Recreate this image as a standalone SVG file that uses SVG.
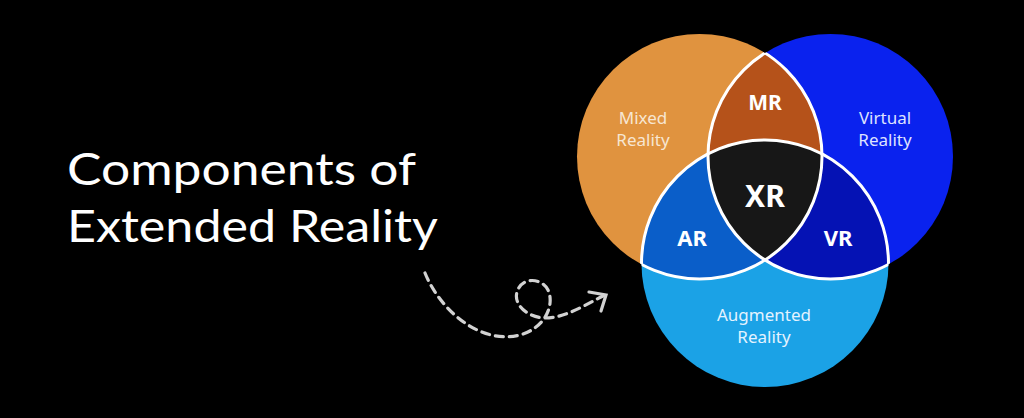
<svg xmlns="http://www.w3.org/2000/svg" width="1024" height="418" viewBox="0 0 1024 418">
  <style>
    .title { font-family: "Lato", "Inter", "Liberation Sans", sans-serif; font-size: 44px; fill: #ffffff; }
    .lbl { font-family: "Noto Sans", "Open Sans", "Liberation Sans", sans-serif; font-size: 17px; text-anchor: middle; }
    .big { font-family: "Noto Sans", "Open Sans", "Liberation Sans", sans-serif; font-weight: bold; fill: #ffffff; text-anchor: middle; }
    .edge { fill: none; stroke: #ffffff; stroke-width: 3; }
    .dash { fill: none; stroke: #d2d2d2; stroke-width: 3.2; stroke-linecap: round; }
  </style>
  <defs>
    <clipPath id="cO"><circle cx="699.5" cy="156.5" r="122.5"/></clipPath>
    <clipPath id="cB"><circle cx="830.5" cy="156.5" r="122.5"/></clipPath>
    <clipPath id="cBL"><circle cx="830.5" cy="156.5" r="122.5"/><circle cx="765" cy="263.5" r="123.5"/></clipPath>
    <clipPath id="cOL"><circle cx="699.5" cy="156.5" r="122.5"/><circle cx="765" cy="263.5" r="123.5"/></clipPath>
    <clipPath id="cOB"><circle cx="699.5" cy="156.5" r="122.5"/><circle cx="830.5" cy="156.5" r="122.5"/></clipPath>
  </defs>
  <rect width="1024" height="418" fill="#000000"/>

  <g id="title">
    <text class="title" x="67" y="185" textLength="349" lengthAdjust="spacingAndGlyphs">Components of</text>
    <text class="title" x="67" y="242" textLength="371" lengthAdjust="spacingAndGlyphs">Extended Reality</text>
  </g>

  <g id="mixed-reality">
    <circle cx="699.5" cy="156.5" r="122.5" fill="#e0933f"/>
    <text class="lbl" x="643" y="124" fill="#f7e6d2">Mixed</text>
    <text class="lbl" x="643" y="146" fill="#f7e6d2">Reality</text>
  </g>
  <g id="virtual-reality">
    <circle cx="830.5" cy="156.5" r="122.5" fill="#0a22ee"/>
    <text class="lbl" x="885" y="124" fill="#dfe3ff">Virtual</text>
    <text class="lbl" x="885" y="146" fill="#dfe3ff">Reality</text>
  </g>
  <g id="mr">
    <circle cx="699.5" cy="156.5" r="122.5" fill="#b5521a" clip-path="url(#cB)"/>
    <text class="big" x="765" y="110" font-size="21">MR</text>
  </g>
  <g id="augmented-reality">
    <circle cx="765" cy="263.5" r="123.5" fill="#1ba2e6"/>
    <text class="lbl" x="764" y="321" fill="#e4f3ff">Augmented</text>
    <text class="lbl" x="764" y="343" fill="#e4f3ff">Reality</text>
  </g>
  <g id="ar">
    <circle cx="765" cy="263.5" r="123.5" fill="#0a5ec9" clip-path="url(#cO)"/>
    <text class="big" x="692" y="246" font-size="22">AR</text>
  </g>
  <g id="vr">
    <circle cx="765" cy="263.5" r="123.5" fill="#0512b4" clip-path="url(#cB)"/>
    <text class="big" x="838" y="246" font-size="22">VR</text>
  </g>
  <g id="xr">
    <g clip-path="url(#cO)">
      <circle cx="765" cy="263.5" r="123.5" fill="#171717" clip-path="url(#cB)"/>
    </g>
    <text class="big" x="765" y="207" font-size="30">XR</text>
  </g>

  <g id="outlines">
    <circle class="edge" cx="699.5" cy="156.5" r="122.5" clip-path="url(#cBL)"/>
    <circle class="edge" cx="830.5" cy="156.5" r="122.5" clip-path="url(#cOL)"/>
    <circle class="edge" cx="765" cy="263.5" r="123.5" clip-path="url(#cOB)"/>
  </g>

  <g id="connectors">
    <path class="dash" stroke-dasharray="8 6" d="M425,273 C440,310 480,345 520,335 C545,328 555,305 548,290 C542,278 522,276 517,292 C513,306 530,318 545,318 C565,318 585,305 603,296"/>
    <path class="dash" d="M589,292 L606,295 L601,311"/>
  </g>
</svg>
